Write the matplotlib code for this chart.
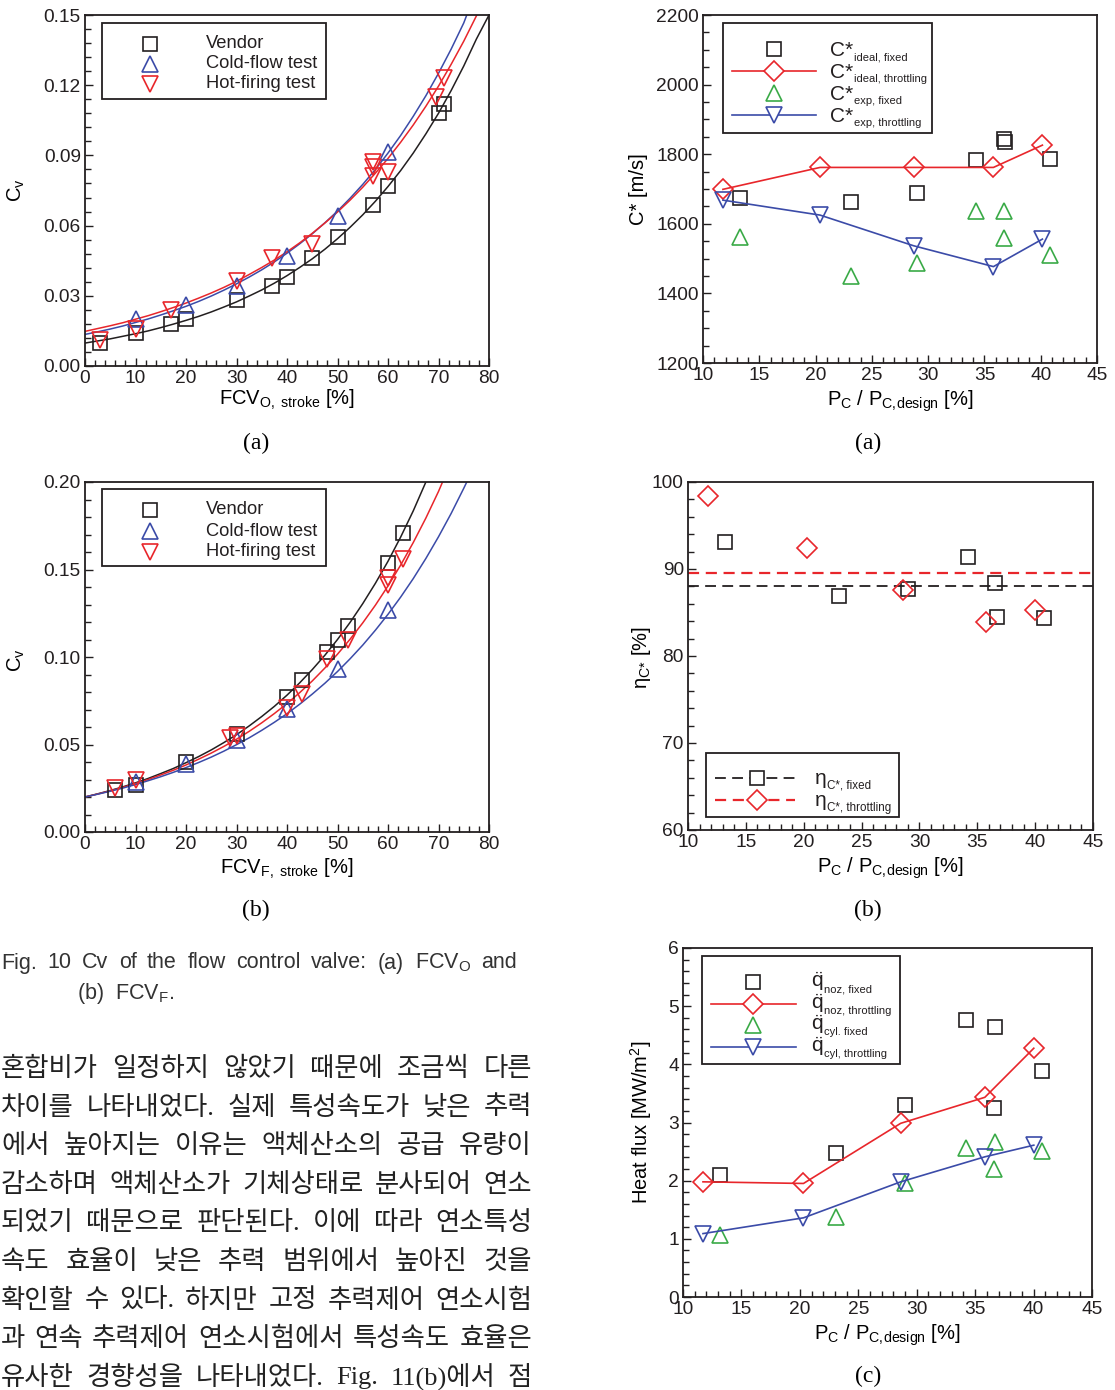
import numpy as np
import matplotlib
matplotlib.use('Agg')
import matplotlib.pyplot as plt
from matplotlib.ticker import MultipleLocator, FormatStrFormatter
from matplotlib.lines import Line2D
from matplotlib.patches import Rectangle
from matplotlib.transforms import IdentityTransform

plt.rcParams['font.family'] = ['Liberation Sans', 'DejaVu Sans']
plt.rcParams['mathtext.fontset'] = 'custom'
plt.rcParams['mathtext.rm'] = 'Liberation Sans'
plt.rcParams['mathtext.it'] = 'Liberation Sans:italic'
plt.rcParams['mathtext.bf'] = 'Liberation Sans:bold'

BLACK = '#231f20'
RED = '#e8262b'
BLUE = '#3b4ba8'
GREEN = '#3aaa47'

# ---- Fig 10 (a) : Cv of FCV_O ----
o_vendor_x = [3, 10, 17, 20, 30, 37, 40, 45, 50, 57, 60, 70, 71]
o_vendor_y = [0.010, 0.014, 0.018, 0.020, 0.028, 0.034, 0.038, 0.046, 0.055, 0.069, 0.077, 0.108, 0.112]
o_cold_x = [10, 20, 30, 40, 50, 60]
o_cold_y = [0.0202, 0.0259, 0.0344, 0.0472, 0.0643, 0.0913]
o_hot_x = [3, 10, 17, 30, 37, 45, 57, 57, 57, 60, 69.6, 71]
o_hot_y = [0.011, 0.016, 0.024, 0.0365, 0.046, 0.052, 0.087, 0.085, 0.081, 0.083, 0.115, 0.123]
# fitted curves, every 2.5 % of stroke
o_fit_vendor = [0.0098, 0.0107, 0.0116, 0.0127, 0.0138, 0.0150, 0.0164, 0.0179, 0.0195, 0.0212,
                0.0231, 0.0252, 0.0274, 0.0299, 0.0325, 0.0354, 0.0386, 0.0421, 0.0458, 0.0499,
                0.0544, 0.0593, 0.0646, 0.0704, 0.0767, 0.0835, 0.0910, 0.0992, 0.1080, 0.1177,
                0.1282, 0.1397, 0.1500]
o_fit_cold = [0.0135, 0.0146, 0.0158, 0.0171, 0.0186, 0.0201, 0.0218, 0.0236, 0.0255, 0.0276,
              0.0299, 0.0324, 0.0351, 0.0380, 0.0411, 0.0445, 0.0482, 0.0522, 0.0565, 0.0612,
              0.0662, 0.0717, 0.0776, 0.0840, 0.0910, 0.0985, 0.1067, 0.1155, 0.1251, 0.1354,
              0.1466, 0.1500]
o_fit_hot = [0.0148, 0.0160, 0.0172, 0.0185, 0.0200, 0.0215, 0.0232, 0.0250, 0.0269, 0.0290,
             0.0312, 0.0336, 0.0362, 0.0391, 0.0421, 0.0453, 0.0488, 0.0526, 0.0567, 0.0611,
             0.0658, 0.0709, 0.0764, 0.0824, 0.0887, 0.0956, 0.1030, 0.1110, 0.1196, 0.1289,
             0.1388, 0.1496, 0.1500]
o_fit_end_x = [80, 75.6, 77.6]   # where each curve leaves the top of the frame

# ---- Fig 10 (b) : Cv of FCV_F ----
f_vendor_x = [6, 10, 20, 30, 40, 43, 48, 50, 52, 60, 63]
f_vendor_y = [0.024, 0.027, 0.040, 0.056, 0.077, 0.087, 0.103, 0.1095, 0.1175, 0.154, 0.171]
f_cold_x = [10, 20, 30, 40, 50, 60]
f_cold_y = [0.0286, 0.0387, 0.0524, 0.0705, 0.0933, 0.1267]
f_hot_x = [6, 10, 28.7, 30, 40, 43, 48, 52, 60, 60, 63]
f_hot_y = [0.025, 0.030, 0.054, 0.055, 0.071, 0.0787, 0.099, 0.110, 0.141, 0.145, 0.156]
f_fit_vendor = [0.0200, 0.0218, 0.0237, 0.0258, 0.0281, 0.0306, 0.0334, 0.0363, 0.0396, 0.0431,
                0.0469, 0.0511, 0.0556, 0.0606, 0.0660, 0.0718, 0.0782, 0.0852, 0.0928, 0.1010,
                0.1100, 0.1198, 0.1305, 0.1421, 0.1547, 0.1685, 0.1835, 0.2000]
f_fit_hot = [0.0200, 0.0217, 0.0235, 0.0255, 0.0277, 0.0300, 0.0326, 0.0353, 0.0383, 0.0416,
             0.0451, 0.0489, 0.0530, 0.0575, 0.0624, 0.0677, 0.0734, 0.0796, 0.0863, 0.0937,
             0.1016, 0.1102, 0.1195, 0.1296, 0.1406, 0.1525, 0.1654, 0.1794, 0.1946, 0.2000]
f_fit_cold = [0.0200, 0.0216, 0.0233, 0.0251, 0.0271, 0.0293, 0.0316, 0.0341, 0.0368, 0.0397,
              0.0428, 0.0462, 0.0499, 0.0538, 0.0581, 0.0627, 0.0676, 0.0730, 0.0788, 0.0850,
              0.0917, 0.0990, 0.1068, 0.1153, 0.1244, 0.1342, 0.1448, 0.1563, 0.1687, 0.1820,
              0.1964, 0.2000]
f_fit_end_x = [67.5, 70.8, 75.6]

# ---- Fig 11 (a) : characteristic velocity ----
cs_fixed_x = [13.25, 23.15, 29.04, 34.24, 36.75, 36.8, 40.8]
cs_ideal_fixed = [1675, 1662, 1688, 1783, 1845, 1836, 1786]
cs_exp_fixed = [1561, 1450, 1487, 1638, 1638, 1558, 1511]
cs_exp_fixed_x = [13.3, 23.15, 29.04, 34.24, 36.7, 36.75, 40.8]
cs_thr_x = [11.77, 20.4, 28.7, 35.8, 40.15]
cs_ideal_thr = [1699, 1762, 1762, 1762, 1826]
cs_exp_thr = [1668, 1625, 1537, 1477, 1556]

# ---- Fig 11 (b) : C* efficiency ----
eta_fixed_x = [13.23, 23.08, 28.99, 34.17, 36.56, 36.7, 40.74]
eta_fixed = [93.09, 86.95, 87.75, 91.36, 88.4, 84.45, 84.4]
eta_thr_x = [11.7, 20.29, 28.58, 35.78, 40.02]
eta_thr = [98.4, 92.44, 87.56, 83.88, 85.26]

# ---- Fig 11 (c) : heat flux ----
hf_fixed_x = [13.19, 23.1, 29.0, 34.18, 36.69, 36.6, 40.76]
hf_noz_fixed = [2.096, 2.469, 3.30, 4.765, 4.65, 3.255, 3.887]
hf_cyl_fixed = [1.074, 1.378, 1.952, 2.555, 2.67, 2.193, 2.509]
hf_thr_x = [11.71, 20.31, 28.63, 35.83, 40.02]
hf_noz_thr = [1.98, 1.952, 2.986, 3.433, 4.277]
hf_cyl_thr = [1.09, 1.361, 1.98, 2.41, 2.61]

cv_labels = ['Vendor', 'Cold-flow test', 'Hot-firing test']
cs_labels = ['ideal, fixed', 'ideal, throttling', 'exp, fixed', 'exp, throttling']
eta_labels = ['C*, fixed', 'C*, throttling']
hf_labels = ['noz, fixed', 'noz, throttling', 'cyl. fixed', 'cyl, throttling']

caption_1 = ['Fig.', '10', 'Cv', 'of', 'the', 'flow', 'control', 'valve:', '(a)', 'FCV$_{\\rm O}$', 'and']
caption_2 = '(b)  FCV$_{\\rm F}$.'
body_lines = [
    '혼합비가 일정하지 않았기 때문에 조금씩 다른',
    '차이를 나타내었다. 실제 특성속도가 낮은 추력',
    '에서 높아지는 이유는 액체산소의 공급 유량이',
    '감소하며 액체산소가 기체상태로 분사되어 연소',
    '되었기 때문으로 판단된다. 이에 따라 연소특성',
    '속도 효율이 낮은 추력 범위에서 높아진 것을',
    '확인할 수 있다. 하지만 고정 추력제어 연소시험',
    '과 연속 추력제어 연소시험에서 특성속도 효율은',
    '유사한 경향성을 나타내었다. Fig. 11(b)에서 점',
]

W, H = 1115, 1390
fig = plt.figure(figsize=(W / 100, H / 100), dpi=100)
renderer = fig.canvas.get_renderer()
PIX = IdentityTransform()


def box(l, r, t, b):
    return [l / W, 1 - b / H, (r - l) / W, (b - t) / H]


def style(ax, xlim, ylim, xmaj, xmin, ymaj, ymin, yfmt):
    ax.set_xlim(*xlim)
    ax.set_ylim(*ylim)
    ax.xaxis.set_major_locator(MultipleLocator(xmaj))
    ax.xaxis.set_minor_locator(MultipleLocator(xmin))
    ax.yaxis.set_major_locator(MultipleLocator(ymaj))
    ax.yaxis.set_minor_locator(MultipleLocator(ymin))
    ax.yaxis.set_major_formatter(FormatStrFormatter(yfmt))
    ax.tick_params(which='both', direction='in', top=False, right=False,
                   labelsize=13.8, pad=3, width=1.0, colors=BLACK)
    ax.tick_params(which='major', length=6)
    ax.tick_params(which='minor', length=4.5)
    for s in ax.spines.values():
        s.set_linewidth(1.3)
        s.set_color(BLACK)


def pts(ax, x, y, m, c, ms, ls='none'):
    ax.plot(x, y, marker=m, ls=ls, color=c, mfc='none', mec=c, ms=ms, mew=1.2, lw=1.2)


def curve(ax, ys, x_end, color):
    xs = list(np.arange(len(ys) - 1) * 2.5) + [x_end]
    ax.plot(xs, ys, color=color, lw=1.1)


# ---- legend pieces, placed in page pixels (top-left origin) ----
def leg_frame(x0, y0, x1, y1):
    fig.add_artist(Rectangle((x0, H - y1), x1 - x0, y1 - y0, transform=PIX,
                             fc='white', ec=BLACK, lw=1.3, zorder=5))


def leg_handle(xm, y, m, c, ms, line=None, dashes=None, lw=1.2):
    if line is not None:
        ln = Line2D([line[0], line[1]], [H - y, H - y], transform=PIX, color=c, lw=lw, zorder=6)
        if dashes:
            ln.set_dashes(dashes)
        fig.add_artist(ln)
    fig.add_artist(Line2D([xm], [H - y], transform=PIX, marker=m, ls='none', mfc='white',
                          mec=c, ms=ms, mew=1.2, zorder=7))


def leg_sub(x, y, main, sub, dmain, dsub, size=15, subsize=8.0):
    t = fig.text(x, H - (y + dmain), main, transform=PIX, fontsize=size, va='baseline',
                 ha='left', color=BLACK, zorder=8)
    x1 = t.get_window_extent(renderer).x1
    fig.text(x1 + 0.5, H - (y + dsub), sub, transform=PIX, fontsize=subsize, va='baseline',
             ha='left', color=BLACK, zorder=8)


def cv_legend(top, bottom, rows):
    leg_frame(102, top, 326, bottom)
    leg_handle(150, rows[0], 's', BLACK, 9.5)
    leg_handle(150, rows[1], '^', BLUE, 11)
    leg_handle(150, rows[2], 'v', RED, 11)
    for y, s in zip(rows, cv_labels):
        fig.text(206, H - y, s, transform=PIX, fontsize=13.2, va='center', ha='left',
                 color=BLACK, zorder=8)


# (a) FCV_O
ax = fig.add_axes(box(85, 489, 15, 366))
curve(ax, o_fit_vendor, o_fit_end_x[0], BLACK)
curve(ax, o_fit_cold, o_fit_end_x[1], BLUE)
curve(ax, o_fit_hot, o_fit_end_x[2], RED)
pts(ax, o_vendor_x, o_vendor_y, 's', BLACK, 9.5)
pts(ax, o_cold_x, o_cold_y, '^', BLUE, 11)
pts(ax, o_hot_x, o_hot_y, 'v', RED, 11)
style(ax, (0, 80), (0, 0.15), 10, 2, 0.03, 0.006, '%.2f')
ax.set_xlabel('FCV$_{\\rm O,\\ stroke}$ [%]', fontsize=14.5)
ax.set_ylabel('C$_{\\rm v}$', fontsize=14.5)
ax.xaxis.set_label_coords(0.5, -0.063)
ax.yaxis.set_label_coords(-0.144, 0.5)
cv_legend(23, 99, [44, 64, 84])

# (b) FCV_F
ax = fig.add_axes(box(85, 489, 482, 832))
curve(ax, f_fit_vendor, f_fit_end_x[0], BLACK)
curve(ax, f_fit_hot, f_fit_end_x[1], RED)
curve(ax, f_fit_cold, f_fit_end_x[2], BLUE)
pts(ax, f_vendor_x, f_vendor_y, 's', BLACK, 9.5)
pts(ax, f_cold_x, f_cold_y, '^', BLUE, 11)
pts(ax, f_hot_x, f_hot_y, 'v', RED, 11)
style(ax, (0, 80), (0, 0.20), 10, 2, 0.05, 0.01, '%.2f')
ax.set_xlabel('FCV$_{\\rm F,\\ stroke}$ [%]', fontsize=14.5)
ax.set_ylabel('C$_{\\rm v}$', fontsize=14.5)
ax.xaxis.set_label_coords(0.5, -0.071)
ax.yaxis.set_label_coords(-0.144, 0.49)
cv_legend(489, 566, [510, 531, 552])

xlab_pc = 'P$_{\\rm C}$ / P$_{\\rm C,\\!design}$ [%]'

# C* plot
ax = fig.add_axes(box(703, 1097, 15, 363))
pts(ax, cs_fixed_x, cs_ideal_fixed, 's', BLACK, 9.5)
pts(ax, cs_thr_x, cs_ideal_thr, 'D', RED, 10, ls='-')
pts(ax, cs_exp_fixed_x, cs_exp_fixed, '^', GREEN, 12)
pts(ax, cs_thr_x, cs_exp_thr, 'v', BLUE, 12, ls='-')
style(ax, (10, 45), (1200, 2200), 5, 1, 200, 50, '%d')
ax.set_xlabel(xlab_pc, fontsize=14.5)
ax.set_ylabel('C* [m/s]', fontsize=14.5)
ax.xaxis.set_label_coords(0.5, -0.072)
ax.yaxis.set_label_coords(-0.14, 0.5)
leg_frame(723, 23, 932, 133)
cs_rows = [49, 71, 93, 115]
leg_handle(774, cs_rows[0], 's', BLACK, 9.5)
leg_handle(774, cs_rows[1], 'D', RED, 10, line=(732, 816))
leg_handle(774, cs_rows[2], '^', GREEN, 12)
leg_handle(774, cs_rows[3], 'v', BLUE, 12, line=(732, 816))
for y, s in zip(cs_rows, cs_labels):
    leg_sub(830, y, 'C*', s, 7.5, 11.5)

# eta plot
ax = fig.add_axes(box(688, 1093, 482, 830))
ax.axhline(np.mean(eta_fixed), color=BLACK, lw=1.3, dashes=(6, 3.5))
ax.axhline(np.mean(eta_thr), color=RED, lw=1.6, dashes=(5, 3))
pts(ax, eta_fixed_x, eta_fixed, 's', BLACK, 9.5)
pts(ax, eta_thr_x, eta_thr, 'D', RED, 10)
style(ax, (10, 45), (60, 100), 5, 1, 10, 2, '%d')
ax.set_xlabel(xlab_pc, fontsize=14.5)
ax.set_ylabel('η$_{\\rm C{*}}$ [%]', fontsize=14.5)
ax.xaxis.set_label_coords(0.5, -0.072)
ax.yaxis.set_label_coords(-0.086, 0.497)
leg_frame(706, 753, 899, 817)
leg_handle(757, 778, 's', BLACK, 9.5, line=(715, 795), dashes=(6, 3.5), lw=1.3)
leg_handle(757, 800, 'D', RED, 10, line=(715, 795), dashes=(5, 3), lw=1.6)
for y, s in zip([778, 800], eta_labels):
    leg_sub(815, y, 'η', s, 6, 10.5, subsize=8.4)

# heat flux plot
ax = fig.add_axes(box(683, 1092, 948, 1297))
pts(ax, hf_fixed_x, hf_noz_fixed, 's', BLACK, 9.5)
pts(ax, hf_thr_x, hf_noz_thr, 'D', RED, 10, ls='-')
pts(ax, hf_fixed_x, hf_cyl_fixed, '^', GREEN, 12)
pts(ax, hf_thr_x, hf_cyl_thr, 'v', BLUE, 12, ls='-')
style(ax, (10, 45), (0, 6), 5, 1, 1, 0.2, '%d')
ax.set_xlabel(xlab_pc, fontsize=14.5)
ax.set_ylabel('Heat flux [MW/m$^2$]', fontsize=14.5)
ax.xaxis.set_label_coords(0.5, -0.072)
ax.yaxis.set_label_coords(-0.071, 0.5)
leg_frame(702, 956, 900, 1064)
hf_rows = [982, 1004, 1025, 1047]
leg_handle(753, hf_rows[0], 's', BLACK, 9.5)
leg_handle(753, hf_rows[1], 'D', RED, 10, line=(711, 796))
leg_handle(753, hf_rows[2], '^', GREEN, 12)
leg_handle(753, hf_rows[3], 'v', BLUE, 12, line=(711, 796))
for y, s in zip(hf_rows, hf_labels):
    leg_sub(811, y, '$\\ddot{\\rm q}$', s, 5, 10)

# sub-captions
serif = ['Liberation Serif', 'DejaVu Serif']
for x, y, s in [(256, 443, '(a)'), (868, 443, '(a)'), (256, 910, '(b)'),
                (868, 910, '(b)'), (868, 1376, '(c)')]:
    fig.text(x / W, 1 - y / H, s, ha='center', va='center', fontsize=17, family=serif)


def justify(words, x0, x1, y, **kw):
    texts = [fig.text(0, 1 - y / H, w, va='center', ha='left', **kw) for w in words]
    widths = [t.get_window_extent(renderer).width for t in texts]
    gap = (x1 - x0 - sum(widths)) / (len(words) - 1)
    x = x0
    for t, w in zip(texts, widths):
        t.set_x(x / W)
        x += w + gap


justify(caption_1, 1, 517, 963, fontsize=15.5, color='#333333')
fig.text(77 / W, 1 - 993 / H, caption_2, va='center', ha='left', fontsize=15.5, color='#333333')

for i, line in enumerate(body_lines):
    justify(line.split(' '), 1, 532, 1069 + 38.6 * i, fontsize=19,
            family=['Liberation Serif', 'Noto Sans CJK KR'], color='#222222')

fig.savefig('out.png', dpi=100)
